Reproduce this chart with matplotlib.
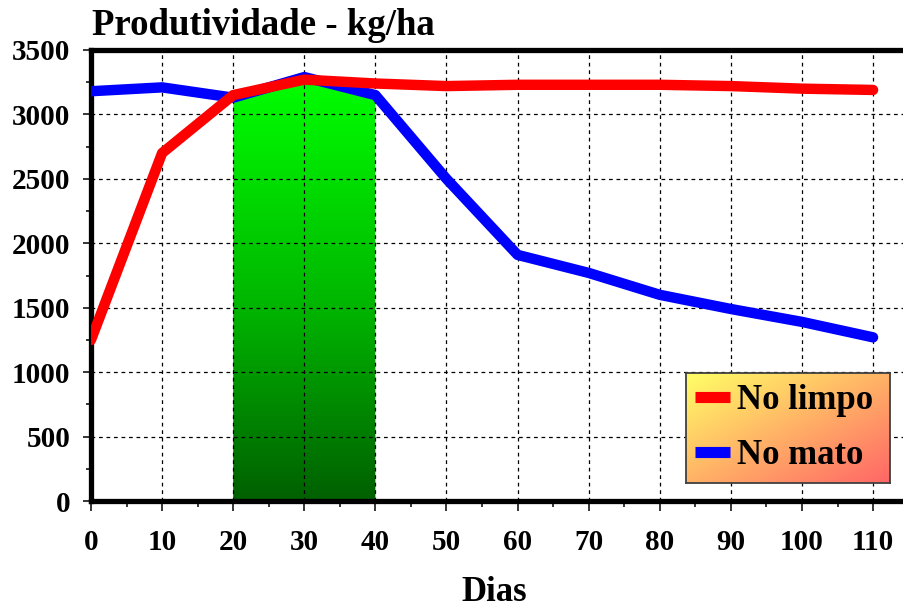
#!/usr/bin/env python3
"""
Produtividade (kg/ha) versus dias de convivencia, no limpo e no mato.
"""

import numpy as np
import matplotlib
matplotlib.use("Agg")
import matplotlib.pyplot as plt
from matplotlib.colors import LinearSegmentedColormap
from matplotlib.lines import Line2D
from matplotlib.ticker import MultipleLocator

dias = [0, 10, 20, 30, 40, 50, 60, 70, 80, 90, 100, 110]
no_limpo = [1250, 2700, 3150, 3270, 3240, 3220, 3230, 3230, 3230, 3220, 3200, 3190]
no_mato = [3180, 3210, 3130, 3290, 3150, 2500, 1910, 1770, 1600, 1490, 1390, 1270]
periodo_critico = (20, 40)
series = ['No limpo', 'No mato']
cores = ['#ff0000', '#0000ff']

plt.rcParams['font.family'] = ['Liberation Serif', 'DejaVu Serif']

fig = plt.figure(figsize=(9.04, 6.09), dpi=100)
ax = fig.add_axes([91 / 904, 108 / 609, 813 / 904, 451 / 609])

# green gradient area under "No mato" inside the critical period
ini, fim = periodo_critico
xs = [d for d in dias if ini <= d <= fim]
ys = [v for d, v in zip(dias, no_mato) if ini <= d <= fim]
poly = ax.fill_between(xs, 0, ys, facecolor='none', edgecolor='none', zorder=0.5)
verde = LinearSegmentedColormap.from_list(
    'verde', [(0, '#006000'), (0.45, '#00b400'), (1, '#00ff00')])
grad = np.linspace(0, 1, 256).reshape(-1, 1)
img = ax.imshow(grad, extent=(ini, fim, 0, max(ys)), origin='lower', cmap=verde,
                aspect='auto', zorder=0.5)
img.set_clip_path(poly.get_paths()[0], transform=ax.transData)

ax.plot(dias, no_mato, color=cores[1], lw=7.5, solid_capstyle='round',
        solid_joinstyle='round', zorder=3)
ax.plot(dias, no_limpo, color=cores[0], lw=7.5, solid_capstyle='round',
        solid_joinstyle='round', zorder=4)

ax.set_xlim(0, 114.35)
ax.set_ylim(0, 3500)
ax.xaxis.set_major_locator(MultipleLocator(10))
ax.xaxis.set_minor_locator(MultipleLocator(5))
ax.yaxis.set_major_locator(MultipleLocator(500))
ax.yaxis.set_minor_locator(MultipleLocator(250))
ax.grid(True, which='major', color='black', linestyle=(0, (3, 3)), linewidth=0.9)

for s in ['left', 'bottom', 'top']:
    ax.spines[s].set_linewidth(3.8)
ax.spines['right'].set_visible(False)

ax.tick_params(axis='x', which='major', direction='out', length=7, width=1.1, pad=13,
               labelsize=21)
ax.tick_params(axis='x', which='minor', direction='out', length=4, width=1.1)
ax.tick_params(axis='y', which='major', direction='out', length=6, width=1.1, pad=9,
               labelsize=21)
ax.tick_params(axis='y', which='minor', direction='out', length=3.5, width=1.1)
for lbl in ax.get_xticklabels() + ax.get_yticklabels():
    lbl.set_fontweight('bold')

fig.text(92 / 904, 1 - 35 / 609, 'Produtividade - kg/ha', fontsize=26.5,
         fontweight='bold', ha='left', va='baseline')
fig.text(494 / 904, 8 / 609, 'Dias', fontsize=25, fontweight='bold',
         ha='center', va='baseline')

# legend box with diagonal yellow -> salmon background
bax = fig.add_axes([686 / 904, 126 / 609, 204 / 904, 110 / 609], zorder=5)
gx, gy = np.meshgrid(np.linspace(0, 1, 200), np.linspace(0, 1, 120))
fundo = LinearSegmentedColormap.from_list('fundo', ['#ffff66', '#ff6666'])
bax.imshow((gx + gy) / 2, cmap=fundo, aspect='auto', origin='upper')
bax.set_xticks([])
bax.set_yticks([])
for s in bax.spines.values():
    s.set_color('#404040')
    s.set_linewidth(1.3)

handles = [Line2D([], [], color=c, lw=8, solid_capstyle='butt') for c in cores]
bax.legend(handles, series, loc='center left', bbox_to_anchor=(0, 0.5),
           prop={'size': 25, 'weight': 'bold'}, handlelength=1.0,
           handletextpad=0.2, labelspacing=0.65, borderpad=0.26,
           borderaxespad=0, frameon=False)

fig.savefig('out.png', dpi=100)
